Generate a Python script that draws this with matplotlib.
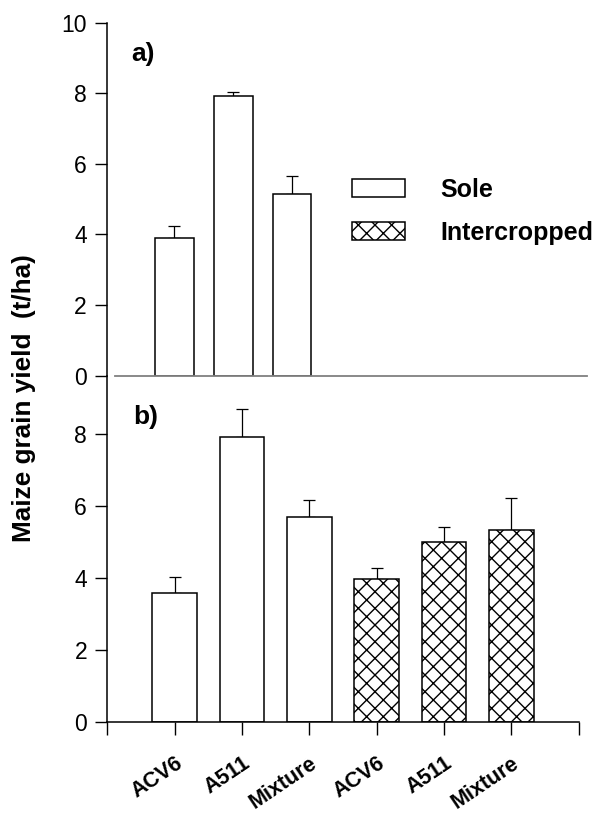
import matplotlib.pyplot as plt
import matplotlib.transforms as mtransforms
import numpy as np

plt.rcParams['font.family'] = ['Liberation Sans', 'DejaVu Sans']
plt.rcParams['hatch.linewidth'] = 1.0

# data
cultivars = ['ACV6', 'A511', 'Mixture']
sole_a = [3.89, 7.92, 5.15]
sole_a_err = [0.35, 0.12, 0.52]
sole_b = [3.60, 7.92, 5.71]
sole_b_err = [0.43, 0.79, 0.48]
inter_b = [3.97, 5.01, 5.33]
inter_b_err = [0.32, 0.42, 0.89]
tick_labels = cultivars + cultivars

fig = plt.figure(figsize=(6, 8.16), dpi=100)
ax1 = fig.add_axes([0.192, 0.5396, 0.7858, 0.4326])
ax2 = fig.add_axes([0.1788, 0.1148, 0.7857, 0.4248])
ax1.patch.set_visible(False)
ax2.patch.set_visible(False)

bar_kw = dict(width=0.66, color='white', edgecolor='black', linewidth=1.1)
err_kw = dict(fmt='none', ecolor='black', elinewidth=0.9, capsize=4.4, capthick=0.9)

# 1. upper panel a)
xa = np.arange(1, 4)
ax1.bar(xa, sole_a, **bar_kw, zorder=2)
ax1.errorbar(xa, np.array(sole_a), yerr=[np.zeros(3), sole_a_err], **err_kw, zorder=1)
ax1.set_xlim(0, 8)
ax1.set_ylim(0, 10)
ax1.set_yticks([0, 2, 4, 6, 8, 10])
ax1.set_xticks([])
ax1.spines['top'].set_visible(False)
ax1.spines['right'].set_visible(False)
ax1.spines['left'].set_position(('outward', 5.8))
ax1.spines['left'].set_linewidth(1.1)
ax1.spines['bottom'].set_color('#808080')
ax1.spines['bottom'].set_linewidth(1.3)
ax1.tick_params(axis='y', length=8.6, width=1.0, labelsize=16.5, pad=6)
ax1.text(0.28, 9.1, 'a)', fontsize=19, fontweight='bold', va='center')

# 2. lower panel b)
xb = np.arange(1, 7)
bs = ax2.bar(xb[:3], sole_b, **bar_kw, zorder=2)
bi = ax2.bar(xb[3:], inter_b, hatch='xx', **bar_kw, zorder=2)
ax2.errorbar(xb[:3], sole_b, yerr=[np.zeros(3), sole_b_err], **err_kw, zorder=1)
ax2.errorbar(xb[3:], inter_b, yerr=[np.zeros(3), inter_b_err], **err_kw, zorder=1)
ax2.set_xlim(0, 7)
ax2.set_ylim(0, 9.63)
ax2.set_yticks([0, 2, 4, 6, 8])
ax2.set_xticks(np.arange(0, 8))
ax2.set_xticklabels([''] + tick_labels + [''], fontsize=15.5, fontweight='bold',
                    rotation=34, ha='right', va='top', rotation_mode='anchor')
shift = mtransforms.ScaledTranslation(4 / 100, 0, fig.dpi_scale_trans)
for lab in ax2.get_xticklabels():
    lab.set_transform(lab.get_transform() + shift)
ax2.spines['top'].set_visible(False)
ax2.spines['right'].set_visible(False)
ax2.spines['left'].set_linewidth(1.1)
ax2.spines['bottom'].set_linewidth(1.1)
ax2.tick_params(axis='y', length=8.6, width=1.0, labelsize=16.5, pad=6)
ax2.tick_params(axis='x', length=9, width=1.0, pad=13)
ax2.text(0.38, 8.49, 'b)', fontsize=19, fontweight='bold', va='center')

# 3. legend in the upper panel
ax1.legend([bs, bi], ['Sole', 'Intercropped'], frameon=False, loc='upper left',
           bbox_to_anchor=(352 / 600, 1 - 178 / 816), bbox_transform=fig.transFigure,
           borderaxespad=0, borderpad=0, handlelength=2.1, handleheight=0.75,
           handletextpad=1.45, labelspacing=0.75,
           prop={'size': 18, 'weight': 'bold'})

fig.text(24 / 600, 1 - 398 / 816, 'Maize grain yield  (t/ha)', rotation=90,
         fontsize=18.8, fontweight='bold', ha='center', va='center')

fig.savefig('out.png', dpi=100)
